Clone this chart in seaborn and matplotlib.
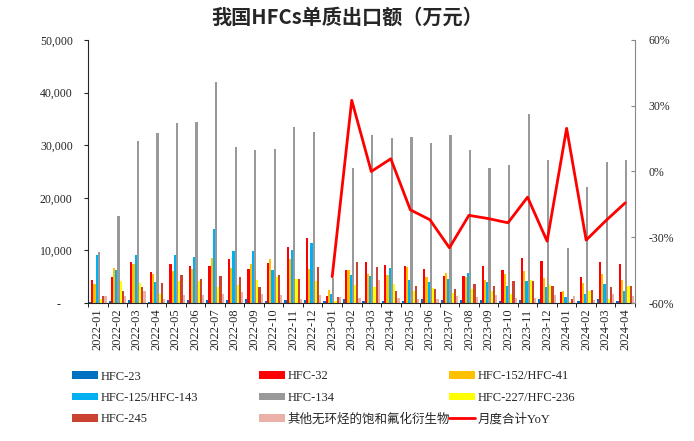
import numpy as np
import pandas as pd
import seaborn as sns
import matplotlib.pyplot as plt
from matplotlib.patches import Patch
from matplotlib.lines import Line2D
from matplotlib.ticker import FuncFormatter

months = ["2022-01", "2022-02", "2022-03", "2022-04", "2022-05", "2022-06", "2022-07",
          "2022-08", "2022-09", "2022-10", "2022-11", "2022-12", "2023-01", "2023-02",
          "2023-03", "2023-04", "2023-05", "2023-06", "2023-07", "2023-08", "2023-09",
          "2023-10", "2023-11", "2023-12", "2024-01", "2024-02", "2024-03", "2024-04"]

hfc23 = [200, 300, 600, 200, 600, 500, 600, 500, 800, 300, 600, 500, 300, 800,
         400, 400, 400, 800, 600, 500, 600, 450, 500, 750, 0, 400, 760, 400]
hfc32 = [4400, 5000, 7800, 5900, 7500, 7000, 7100, 8300, 6500, 7600, 10700, 12300, 1400, 6300,
         7700, 7300, 7000, 6500, 5100, 5200, 7000, 6300, 8600, 7900, 2000, 5000, 7700, 7400]
hfc152 = [3700, 6700, 7500, 5500, 6000, 6400, 8600, 6700, 7400, 8300, 8300, 6400, 2500, 6300,
          5600, 5300, 6900, 5000, 5700, 5000, 4400, 5500, 6000, 4700, 2300, 3800, 5600, 4300]
hfc125 = [9100, 6200, 9200, 3900, 9100, 8700, 14100, 9800, 9800, 6200, 10000, 11500, 1700, 5300,
          5100, 6600, 4400, 4000, 4500, 5700, 3900, 3200, 4100, 3000, 1200, 1700, 3700, 2300]
hfc134 = [9700, 16500, 30800, 32400, 34200, 34500, 42100, 29600, 29000, 29200, 33500, 32500, 4800, 25600,
          31900, 31300, 31600, 30500, 31900, 29000, 25700, 26300, 36000, 27200, 10400, 22100, 26900, 27100]
hfc227 = [760, 4100, 3800, 1800, 4100, 4200, 3100, 3400, 4300, 4900, 4600, 4100, 300, 3400,
          3100, 3700, 2300, 2800, 1900, 2700, 2200, 1800, 4300, 3400, 100, 2300, 760, 3300]
hfc245 = [1270, 2200, 3100, 3800, 5300, 4600, 5200, 5000, 3100, 5400, 4600, 6900, 1100, 7700,
          6900, 2200, 3200, 2700, 2700, 3700, 3200, 4100, 4200, 3200, 800, 2500, 3000, 3200]
others = [1270, 1300, 2200, 760, 1500, 1500, 1700, 2000, 1700, 1600, 800, 1500, 1100, 950,
          4300, 900, 760, 760, 1300, 1100, 1500, 950, 950, 1500, 1300, 500, 1800, 1300]

yoy_months = months[12:]
yoy = [-48, 32.5, 0, 5.8, -17.5, -22, -34.8, -20, -21.5, -23.4, -11.7, -31.8,
       19.7, -31.3, -22.5, -14.3]

series_names = ["HFC-23", "HFC-32", "HFC-152/HFC-41", "HFC-125/HFC-143", "HFC-134",
                "HFC-227/HFC-236", "HFC-245", "其他无环烃的饱和氟化衍生物"]
series_vals = [hfc23, hfc32, hfc152, hfc125, hfc134, hfc227, hfc245, others]
colors = ["#0070C0", "#FF0000", "#FFC000", "#00B0F0", "#999999",
          "#FFFF00", "#C94330", "#EBB0A8"]

rows = []
for name, vals in zip(series_names, series_vals):
    for m, v in zip(months, vals):
        rows.append({"month": m, "series": name, "value": v})
df = pd.DataFrame(rows)

sns.set_style("ticks")
plt.rcParams["font.family"] = ["Liberation Serif", "Noto Sans CJK SC"]

fig = plt.figure(figsize=(6.94, 4.41), dpi=100)
ax = fig.add_axes([88 / 694, 1 - 303 / 441, 547 / 694, 263 / 441])

sns.barplot(data=df, x="month", y="value", hue="series", hue_order=series_names,
            palette=colors, saturation=1, width=0.9, ax=ax, legend=False,
            linewidth=0, antialiased=False)
ax.set_xlim(-0.5, len(months) - 0.5)
ax.set_ylim(0, 50000)
ax.set_yticks(np.arange(0, 50001, 10000))
# Excel accounting format: zero is shown as a dash
ax.yaxis.set_major_formatter(
    FuncFormatter(lambda v, p: "-\u00a0\u00a0\u00a0\u00a0" if v == 0 else "{:,.0f}".format(v)))
ax.set_xlabel("")
ax.set_ylabel("")
ax.set_xticks(np.arange(-0.5, len(months), 1), minor=True)
ax.tick_params(axis="x", which="major", rotation=90, labelsize=9, length=0, pad=4)
ax.tick_params(axis="x", which="minor", length=3, color="black")
ax.tick_params(axis="y", labelsize=8.5, length=3, pad=8)
ax.spines["top"].set_visible(False)
ax.spines["right"].set_visible(False)

ax2 = ax.twinx()
yoy_x = [months.index(m) for m in yoy_months]
sns.lineplot(x=yoy_x, y=yoy, color="#FF0000", linewidth=2, ax=ax2)
ax2.set_ylim(-60, 60)
ax2.set_yticks([-60, -30, 0, 30, 60])
ax2.yaxis.set_major_formatter(FuncFormatter(lambda v, p: "{:.0f}%".format(v)))
ax2.tick_params(axis="y", labelsize=8.5, length=3, direction="in", color="#888888", pad=10)
ax2.spines["top"].set_visible(False)
ax2.spines["right"].set_color("#888888")
ax2.spines["left"].set_visible(False)
ax2.spines["bottom"].set_visible(False)
ax2.set_xlim(-0.5, len(months) - 0.5)

fig.text(0.5, 1 - 17 / 441, "我国HFCs单质出口额（万元）", ha="center", va="center",
         fontsize=14.5, fontweight="bold", family=["Noto Sans CJK SC"])

# three one-column legends, so each column sits where the original has it
patches = [Patch(facecolor=c, edgecolor="none", label=n) for n, c in zip(series_names, colors)]
yoy_line = Line2D([0], [0], color="#FF0000", linewidth=2, label="月度合计YoY")
columns = [[patches[0], patches[3], patches[6]],
           [patches[1], patches[4], patches[7]],
           [patches[2], patches[5], yoy_line]]
col_x = [72, 259, 449]
for hs, x in zip(columns, col_x):
    fig.legend(handles=hs, ncol=1, loc="center left",
               bbox_to_anchor=(x / 694, 1 - 398 / 441),
               frameon=False, fontsize=9, handlelength=2.1, handleheight=0.55,
               handletextpad=0.2, labelspacing=0.75, borderpad=0, borderaxespad=0)

fig.savefig("out.png", dpi=100)
